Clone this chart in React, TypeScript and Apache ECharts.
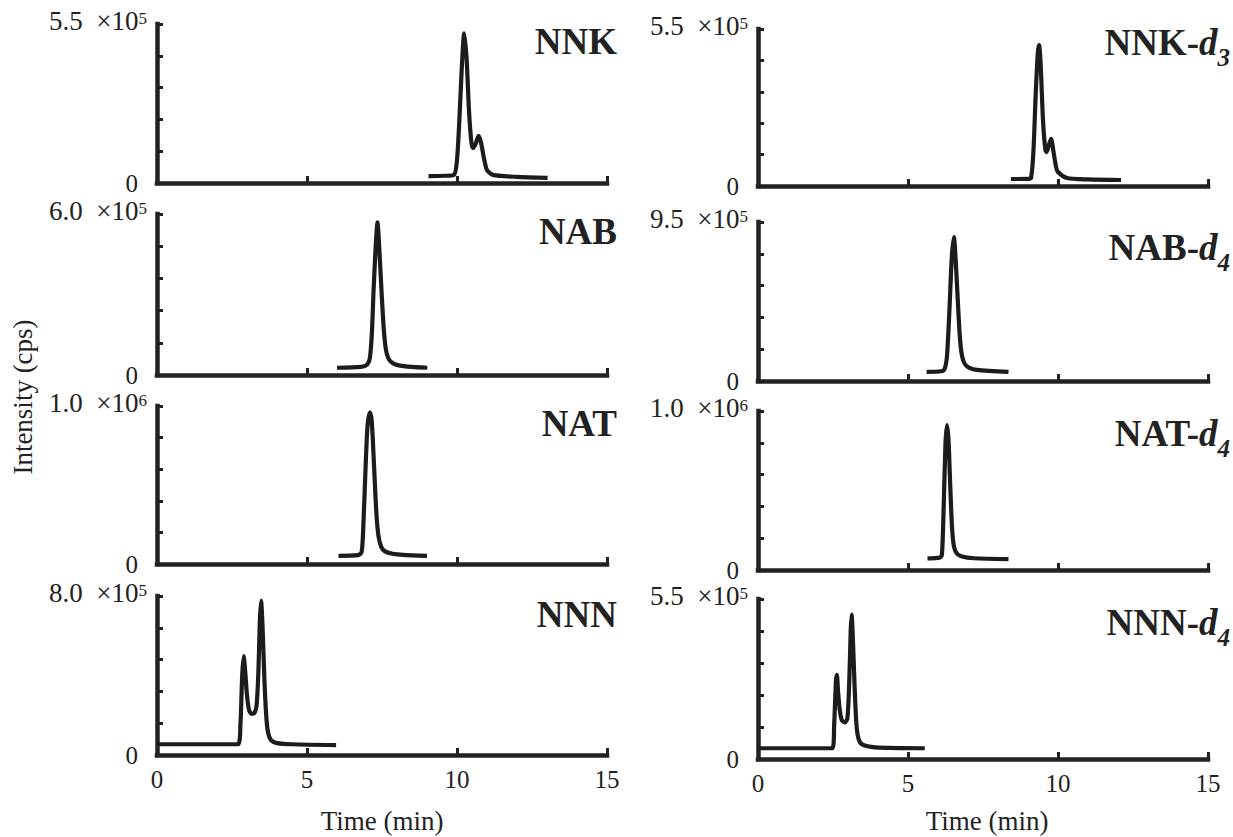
import React, { useEffect, useRef } from "react";
import * as echarts from "echarts";

// ---------- data ----------
const compounds = ["NNK", "NAB", "NAT", "NNN"];
const labelSubs = ["3", "4", "4", "4"];
const xTicks = [0, 5, 10, 15];

// y axis maxima (left column, right column)
const yMaxLeft = [5.5e5, 6.0e5, 1.0e6, 8.0e5];
const yMaxRight = [5.5e5, 9.5e5, 1.0e6, 5.5e5];
const yMantLeft = ["5.5", "6.0", "1.0", "8.0"];
const yMantRight = ["5.5", "9.5", "1.0", "5.5"];
const yExpLeft = ["5", "5", "6", "5"];
const yExpRight = ["5", "5", "6", "5"];

// chromatograms: [time (min), intensity (cps)]
const NNK = [
  [9.05, 24000], [9.6, 25000], [9.9, 28000], [10.0, 80000], [10.08, 220000],
  [10.16, 400000], [10.24, 518000], [10.32, 430000], [10.4, 250000], [10.48, 140000],
  [10.54, 121000], [10.62, 135000], [10.72, 163000], [10.8, 140000], [10.9, 85000],
  [11.0, 45000], [11.2, 28000], [12.0, 21000], [13.02, 18000],
];
const NAB = [
  [6.0, 27000], [6.8, 30000], [7.0, 38000], [7.09, 60000], [7.16, 150000],
  [7.22, 317000], [7.29, 480000], [7.35, 569000], [7.41, 470000], [7.49, 300000],
  [7.56, 170000], [7.63, 95000], [7.72, 60000], [7.85, 45000], [8.02, 37000],
  [8.5, 30000], [9.01, 27000],
];
const NAT = [
  [6.05, 52000], [6.7, 56000], [6.82, 75000], [6.88, 250000], [6.95, 600000],
  [7.02, 880000], [7.1, 960000], [7.16, 900000], [7.24, 600000], [7.31, 330000],
  [7.38, 180000], [7.47, 110000], [7.6, 80000], [7.85, 65000], [8.2, 58000],
  [9.0, 52000],
];
const NNN = [
  [0.0, 54000], [2.7, 54000], [2.78, 150000], [2.84, 400000], [2.89, 497000],
  [2.94, 420000], [3.0, 300000], [3.07, 225000], [3.15, 207000], [3.25, 212000],
  [3.32, 250000], [3.38, 420000], [3.43, 680000], [3.47, 775000], [3.52, 640000],
  [3.58, 380000], [3.64, 200000], [3.7, 115000], [3.8, 75000], [4.0, 60000],
  [4.5, 54000], [5.97, 50000],
];
const NNK_d3 = [
  [8.43, 24500], [9.0, 25000], [9.1, 28000], [9.18, 120000], [9.26, 330000],
  [9.33, 470000], [9.37, 494000], [9.42, 430000], [9.5, 230000], [9.58, 125000],
  [9.62, 119000], [9.7, 145000], [9.77, 165000], [9.85, 120000], [9.93, 70000],
  [10.0, 49000], [10.3, 28000], [11.0, 23000], [12.1, 21000],
];
const NAB_d4 = [
  [5.62, 54000], [6.1, 58000], [6.22, 72000], [6.3, 150000], [6.38, 420000],
  [6.46, 740000], [6.53, 860000], [6.59, 720000], [6.66, 480000], [6.73, 260000],
  [6.8, 150000], [6.9, 100000], [7.05, 78000], [7.3, 66000], [8.35, 54000],
];
const NAT_d4 = [
  [5.65, 73000], [6.05, 78000], [6.13, 95000], [6.19, 400000], [6.25, 800000],
  [6.3, 912000], [6.35, 820000], [6.41, 520000], [6.47, 260000], [6.53, 150000],
  [6.62, 105000], [6.8, 85000], [7.2, 74000], [8.35, 69000],
];
const NNN_d4 = [
  [0.0, 37000], [2.48, 37000], [2.54, 120000], [2.6, 270000], [2.63, 289000],
  [2.67, 230000], [2.73, 165000], [2.8, 132000], [2.9, 126000], [2.98, 140000],
  [3.04, 260000], [3.09, 440000], [3.12, 496000], [3.16, 420000], [3.22, 250000],
  [3.28, 120000], [3.35, 70000], [3.47, 50000], [3.9, 40000], [5.56, 37000],
];

const seriesLeft = [NNK, NAB, NAT, NNN];
const seriesRight = [NNK_d3, NAB_d4, NAT_d4, NNN_d4];

// ---------- layout ----------
const FONT = "Liberation Serif, Times New Roman, Times, serif";
const INK = "#222";
const colLeft = [157, 758];
const colWidth = 450;
const rowTops = [
  [24, 214, 406, 596],
  [29, 222, 411, 599],
];
const rowBottoms = [
  [183, 375, 564, 755],
  [186, 381, 570, 759],
];
const titleRight = [617, 1230];
const titleCapsCenter = [
  [43, 233, 425, 616],
  [44, 249, 435, 624],
];

export default function App() {
  const ref = useRef<HTMLDivElement>(null);

  useEffect(() => {
    if (!ref.current) return;
    const chart = echarts.init(ref.current, undefined, { renderer: "svg" });

    const grids: any[] = [];
    const xAxes: any[] = [];
    const yAxes: any[] = [];
    const series: any[] = [];
    const graphics: any[] = [];

    for (let c = 0; c < 2; c++) {
      for (let r = 0; r < 4; r++) {
        const idx = c * 4 + r;
        const top = rowTops[c][r];
        const h = rowBottoms[c][r] - top;
        const max = c === 0 ? yMaxLeft[r] : yMaxRight[r];
        const mant = c === 0 ? yMantLeft[r] : yMantRight[r];
        const exp = c === 0 ? yExpLeft[r] : yExpRight[r];
        const isBottom = r === 3;
        grids.push({ left: colLeft[c], top, width: colWidth, height: h });
        xAxes.push({
          type: "value",
          gridIndex: idx,
          min: xTicks[0],
          max: xTicks[xTicks.length - 1],
          interval: 5,
          axisLine: { show: true, lineStyle: { color: INK, width: 4.5, cap: "square" } },
          axisTick: { show: true, inside: true, length: 7, lineStyle: { color: INK, width: 3 } },
          splitLine: { show: false },
          axisLabel: {
            show: isBottom,
            margin: 12,
            fontFamily: FONT,
            fontSize: 25,
            color: INK,
          },
        });
        yAxes.push({
          type: "value",
          gridIndex: idx,
          min: 0,
          max,
          interval: max / 5,
          axisLine: { show: true, lineStyle: { color: INK, width: 4.5, cap: "square" } },
          axisTick: { show: true, inside: true, length: 6, lineStyle: { color: INK, width: 3 } },
          splitLine: { show: false },
          axisLabel: {
            show: true,
            showMinLabel: true,
            showMaxLabel: true,
            margin: 10,
            color: INK,
            fontFamily: FONT,
            formatter: (v: number) => {
              if (v === 0) return "{z|0}";
              if (Math.abs(v - max) < max * 1e-6) return `{m|${mant}  ×10}{s|${exp}}`;
              return "";
            },
            rich: {
              z: { fontSize: 25, fontFamily: FONT, color: INK, padding: [0, 9, 0, 0] },
              m: { fontSize: 27, fontFamily: FONT, color: INK, lineHeight: 28, verticalAlign: "middle", padding: [0, 0, 6, 0] },
              s: { fontSize: 17, fontFamily: FONT, color: INK, lineHeight: 17, verticalAlign: "top" },
            },
          },
        });
        series.push({
          type: "line",
          xAxisIndex: idx,
          yAxisIndex: idx,
          data: c === 0 ? seriesLeft[r] : seriesRight[r],
          showSymbol: false,
          smooth: 0.25,
          lineStyle: { color: "#1c1c1c", width: 4.2, join: "round" },
          silent: true,
        });

        // panel title
        const name = compounds[r];
        const text = c === 0 ? `{b|${name}}` : `{b|${name}-}{i|d}{u|${labelSubs[r]}}`;
        graphics.push({
          type: "text",
          x: titleRight[c],
          y: titleCapsCenter[c][r] - 20,
          style: {
            text,
            align: "right",
            verticalAlign: "top",
            rich: {
              b: { fontSize: 37, fontWeight: "bold", fontFamily: FONT, fill: INK, lineHeight: 40, verticalAlign: "top" },
              i: { fontSize: 37, fontWeight: "bold", fontStyle: "italic", fontFamily: FONT, fill: INK, lineHeight: 40, verticalAlign: "top" },
              u: { fontSize: 25, fontWeight: "bold", fontStyle: "italic", fontFamily: FONT, fill: INK, lineHeight: 46, verticalAlign: "bottom" },
            },
          },
        });
      }
    }

    // axis titles
    graphics.push({
      type: "text",
      x: 23,
      y: 397,
      rotation: Math.PI / 2,
      style: { text: "Intensity (cps)", fontSize: 27, fontFamily: FONT, fill: INK, align: "center", verticalAlign: "middle" },
    });
    [382, 987].forEach((x) => {
      graphics.push({
        type: "text",
        x,
        y: 821,
        style: { text: "Time (min)", fontSize: 27, fontFamily: FONT, fill: INK, align: "center", verticalAlign: "middle" },
      });
    });

    chart.setOption({
      animation: false,
      backgroundColor: "#ffffff",
      grid: grids,
      xAxis: xAxes,
      yAxis: yAxes,
      series,
      graphic: graphics,
    });

    return () => chart.dispose();
  }, []);

  return (
    <div
      ref={ref}
      style={{ position: "fixed", left: 0, top: 0, width: 1233, height: 837, background: "#fff" }}
    />
  );
}
